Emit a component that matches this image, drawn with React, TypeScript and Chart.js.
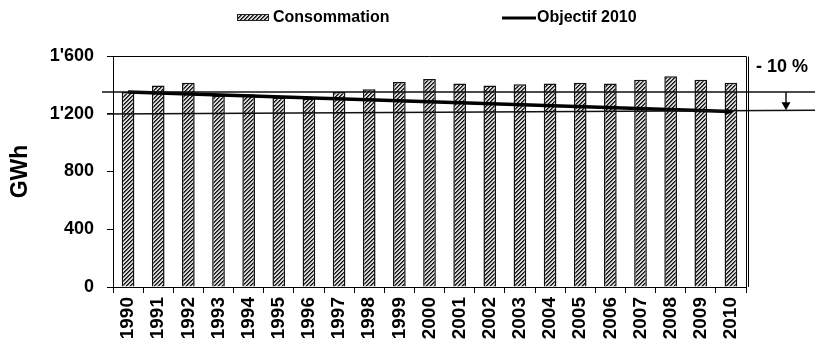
import { useEffect, useRef } from "react";
import { Chart, registerables } from "chart.js";

Chart.register(...registerables);

// Annual consumption (GWh) and the 2010 reduction objective
const years = [
  "1990", "1991", "1992", "1993", "1994", "1995", "1996", "1997", "1998", "1999", "2000",
  "2001", "2002", "2003", "2004", "2005", "2006", "2007", "2008", "2009", "2010",
];
const consumption = [
  1350, 1395, 1415, 1325, 1335, 1310, 1305, 1350, 1370, 1420, 1440,
  1410, 1395, 1405, 1410, 1415, 1410, 1435, 1460, 1435, 1415,
];
const objective: (number | null)[] = [
  1350, null, null, null, null, null, null, null, null, null, null,
  null, null, null, null, null, null, null, null, null, 1215,
];
const baselineLevel = 1350;
const reducedLevelStart = 1198;
const reducedLevelEnd = 1225;
const reductionLabel = "- 10 %";
const legendLabels = ["Consommation", "Objectif 2010"];
const yTitle = "GWh";

const FONT = "Arial, 'Liberation Sans', sans-serif";

function formatThousands(v: number): string {
  return String(v).replace(/\B(?=(\d{3})+(?!\d))/g, "'");
}

// Diagonal hatch fill for the consumption bars
function makeHatch(): CanvasPattern | string {
  const tile = document.createElement("canvas");
  tile.width = 4;
  tile.height = 4;
  const g = tile.getContext("2d");
  if (!g) return "#888";
  g.fillStyle = "#d6d6d6";
  g.fillRect(0, 0, 4, 4);
  g.fillStyle = "#111111";
  for (let i = 0; i < 4; i++) {
    g.fillRect(i, 3 - i, 1, 1);
  }
  g.fillStyle = "#505050";
  for (let i = 0; i < 4; i++) {
    g.fillRect(i, (4 - i) % 4, 1, 1);
  }
  const p = g.createPattern(tile, "repeat");
  return p ?? "#888";
}

export default function App() {
  const canvasRef = useRef<HTMLCanvasElement | null>(null);

  useEffect(() => {
    document.body.style.margin = "0";
    const canvas = canvasRef.current;
    if (!canvas) return;
    const hatch = makeHatch();

    // Frame, reference lines, reduction arrow and legend
    const decorations = {
      id: "decorations",
      afterDatasetsDraw(chart: any) {
        const { ctx, chartArea, scales } = chart;
        const y = scales.y;
        const x = scales.x;
        ctx.save();

        // plot frame (top and right)
        ctx.strokeStyle = "#000";
        ctx.lineWidth = 1;
        ctx.beginPath();
        ctx.moveTo(chartArea.left, chartArea.top + 0.5);
        ctx.lineTo(chartArea.right + 0.5, chartArea.top + 0.5);
        ctx.lineTo(chartArea.right + 0.5, chartArea.bottom);
        ctx.moveTo(chartArea.right + 2.5, chartArea.top + 0.5);
        ctx.lineTo(chartArea.right + 2.5, chartArea.bottom);
        ctx.stroke();

        // baseline and reduced level
        const yBase = y.getPixelForValue(baselineLevel);
        const yRedA = y.getPixelForValue(reducedLevelStart);
        const yRedB = y.getPixelForValue(reducedLevelEnd);
        const xEnd = chart.width;
        ctx.lineWidth = 1.5;
        ctx.strokeStyle = "#111";
        ctx.beginPath();
        ctx.moveTo(chartArea.left - 11, yBase);
        ctx.lineTo(xEnd, yBase);
        ctx.moveTo(chartArea.left - 6, yRedA);
        ctx.lineTo(xEnd, yRedB);
        ctx.stroke();

        // arrowhead at the end of the objective line
        const x0 = x.getPixelForValue(0);
        const x1 = x.getPixelForValue(years.length - 1);
        const y0 = y.getPixelForValue(objective[0] as number);
        const y1 = y.getPixelForValue(objective[objective.length - 1] as number);
        const ang = Math.atan2(y1 - y0, x1 - x0);
        ctx.fillStyle = "#000";
        ctx.beginPath();
        ctx.moveTo(x1 + Math.cos(ang) * 3, y1 + Math.sin(ang) * 3);
        ctx.lineTo(x1 - Math.cos(ang) * 6 - Math.sin(ang) * 3.5, y1 - Math.sin(ang) * 6 + Math.cos(ang) * 3.5);
        ctx.lineTo(x1 - Math.cos(ang) * 6 + Math.sin(ang) * 3.5, y1 - Math.sin(ang) * 6 - Math.cos(ang) * 3.5);
        ctx.closePath();
        ctx.fill();

        // reduction arrow between the two levels
        const ax = chartArea.right + 40;
        const yLow = yRedA + (yRedB - yRedA) * ((ax - (chartArea.left - 6)) / (xEnd - (chartArea.left - 6)));
        ctx.lineWidth = 1.5;
        ctx.beginPath();
        ctx.moveTo(ax, yBase);
        ctx.lineTo(ax, yLow - 7);
        ctx.stroke();
        ctx.beginPath();
        ctx.moveTo(ax - 4.5, yLow - 8);
        ctx.lineTo(ax + 4.5, yLow - 8);
        ctx.lineTo(ax, yLow);
        ctx.closePath();
        ctx.fill();

        // reduction label
        ctx.font = `bold 18px ${FONT}`;
        ctx.textAlign = "left";
        ctx.textBaseline = "alphabetic";
        ctx.fillText(reductionLabel, chartArea.right + 10, chartArea.top + 16);

        // legend
        const ly = 18;
        ctx.fillStyle = hatch as any;
        ctx.fillRect(237, ly - 4, 32, 7);
        ctx.strokeStyle = "#222";
        ctx.lineWidth = 1;
        ctx.strokeRect(237.5, ly - 3.5, 31, 6);
        ctx.fillStyle = "#000";
        ctx.font = `bold 16px ${FONT}`;
        ctx.textBaseline = "middle";
        ctx.fillText(legendLabels[0], 273, ly);
        ctx.lineWidth = 3;
        ctx.strokeStyle = "#000";
        ctx.beginPath();
        ctx.moveTo(502, ly);
        ctx.lineTo(536, ly);
        ctx.stroke();
        ctx.fillText(legendLabels[1], 537, ly);

        ctx.restore();
      },
    };

    const chart = new Chart(canvas, {
      type: "bar",
      data: {
        labels: years,
        datasets: [
          {
            type: "line",
            label: legendLabels[1],
            data: objective,
            borderColor: "#000",
            borderWidth: 3.5,
            pointRadius: 0,
            spanGaps: true,
            fill: false,
            order: 0,
          } as any,
          {
            type: "bar",
            label: legendLabels[0],
            data: consumption,
            backgroundColor: hatch as any,
            borderColor: "#111",
            borderWidth: 1.5,
            barPercentage: 0.42,
            categoryPercentage: 1,
            order: 1,
          },
        ],
      },
      options: {
        responsive: false,
        animation: false,
        layout: { padding: { top: 56, right: 69, left: 0, bottom: 0 } },
        plugins: {
          legend: { display: false },
          tooltip: { enabled: false },
        },
        scales: {
          x: {
            afterFit: (s: any) => {
              s.height = 58;
            },
            grid: {
              offset: true,
              drawOnChartArea: false,
              drawTicks: true,
              tickLength: 6,
              color: "#000",
            },
            border: { color: "#000", width: 1 },
            ticks: {
              minRotation: 90,
              maxRotation: 90,
              padding: 4,
              color: "#000",
              font: { family: FONT, size: 19, weight: "bold" },
              autoSkip: false,
            },
          },
          y: {
            min: 0,
            max: 1600,
            afterFit: (s: any) => {
              s.width = 113;
            },
            grid: {
              drawOnChartArea: false,
              drawTicks: true,
              tickLength: 6,
              color: "#000",
            },
            border: { color: "#000", width: 1 },
            ticks: {
              stepSize: 400,
              padding: 13,
              color: "#000",
              font: { family: FONT, size: 18, weight: "bold" },
              callback: (v: any) => formatThousands(Number(v)),
            },
            title: {
              display: true,
              text: yTitle,
              color: "#000",
              font: { family: FONT, size: 23, weight: "bold" },
              padding: { top: 7, bottom: 0 },
            },
          },
        },
      },
      plugins: [decorations],
    });

    return () => chart.destroy();
  }, []);

  return (
    <div style={{ width: 815, height: 345, background: "#fff" }}>
      <canvas ref={canvasRef} width={815} height={345} />
    </div>
  );
}
